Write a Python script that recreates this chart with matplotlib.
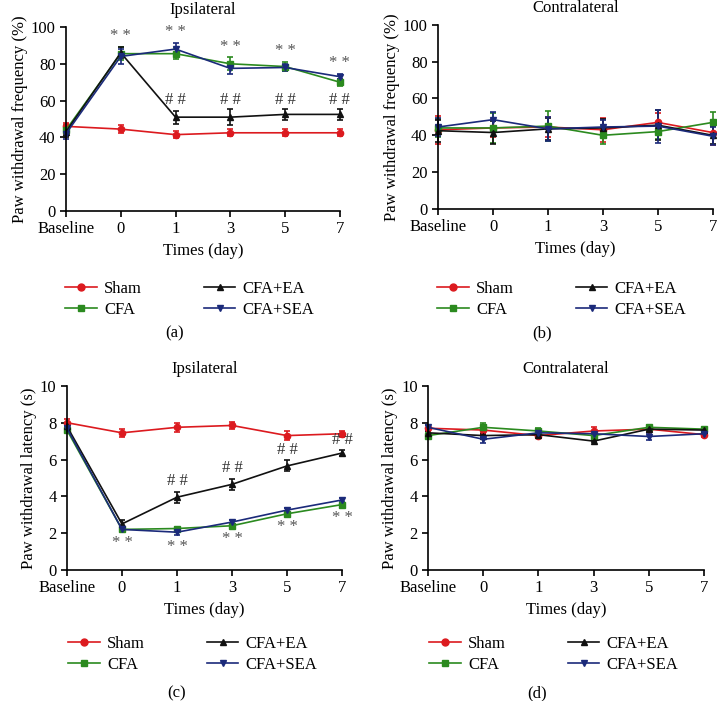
import matplotlib
matplotlib.use("Agg")
import matplotlib.pyplot as plt
from matplotlib.lines import Line2D
import numpy as np

plt.rcParams["font.family"] = ["Liberation Serif", "DejaVu Serif"]
plt.rcParams["font.size"] = 11.5

# x categories
days = ["Baseline", "0", "1", "3", "5", "7"]
groups = ["Sham", "CFA", "CFA+EA", "CFA+SEA"]
colors = ["#dc1a1f", "#2b8a1f", "#111111", "#1b2a7a"]
markers = ["o", "s", "^", "v"]

# (a) ipsilateral withdrawal frequency (%)
freq_ipsi = [
    [46, 44.5, 41.5, 42.5, 42.5, 42.5],
    [44, 85.5, 85.5, 80, 78.5, 70],
    [43, 86, 51, 51, 52.5, 52.5],
    [42, 84, 88, 77.5, 78, 73],
]
freq_ipsi_err = [
    [2, 2, 2, 2, 2, 2],
    [3, 3.5, 3, 3.5, 2.5, 2],
    [3, 3, 3.5, 4.5, 3, 3],
    [3, 4, 3.5, 3, 2, 1.5],
]
# (b) contralateral withdrawal frequency (%)
freq_contra = [
    [43, 44, 44.5, 43, 47, 41.5],
    [44, 44, 45, 40, 42, 47],
    [42.5, 41.5, 43.5, 44, 45.5, 40],
    [44.5, 48.5, 43.5, 44.5, 45, 39.5],
]
freq_contra_err = [
    [7.5, 5, 5.5, 6.5, 5, 7],
    [5, 8, 8, 5, 4, 5.5],
    [6, 6, 6, 5, 8, 5],
    [5, 4, 6.5, 4, 9, 5],
]
# (c) ipsilateral withdrawal latency (s)
lat_ipsi = [
    [8.0, 7.45, 7.75, 7.85, 7.3, 7.4],
    [7.6, 2.2, 2.25, 2.4, 3.05, 3.55],
    [7.8, 2.5, 3.95, 4.65, 5.65, 6.35],
    [7.7, 2.2, 2.05, 2.6, 3.25, 3.8],
]
lat_ipsi_err = [
    [0.2, 0.2, 0.25, 0.2, 0.25, 0.15],
    [0.1, 0.1, 0.1, 0.1, 0.1, 0.1],
    [0.2, 0.2, 0.3, 0.3, 0.3, 0.15],
    [0.1, 0.1, 0.15, 0.1, 0.1, 0.1],
]
# (d) contralateral withdrawal latency (s)
lat_contra = [
    [7.7, 7.6, 7.3, 7.55, 7.65, 7.35],
    [7.3, 7.75, 7.55, 7.3, 7.75, 7.65],
    [7.45, 7.3, 7.35, 7.0, 7.65, 7.6],
    [7.75, 7.1, 7.45, 7.4, 7.25, 7.4],
]
lat_contra_err = [
    [0.15, 0.2, 0.15, 0.2, 0.15, 0.15],
    [0.15, 0.25, 0.15, 0.15, 0.1, 0.1],
    [0.1, 0.1, 0.1, 0.05, 0.1, 0.1],
    [0.15, 0.2, 0.1, 0.1, 0.2, 0.1],
]


def draw_panel(ax, values, errors, ymax, ylabel, title):
    x = np.arange(len(days))
    for vals, errs, c, m in zip(values, errors, colors, markers):
        ax.errorbar(x, vals, yerr=errs, color=c, marker=m, markersize=4.5,
                    linewidth=1.2, elinewidth=1.2, capsize=2.5, capthick=1.2,
                    clip_on=False)
    ax.set_xlim(0, len(days) - 1)
    ax.set_ylim(0, ymax)
    ax.set_xticks(x)
    ax.set_xticklabels(days)
    ax.set_yticks(np.linspace(0, ymax, 6))
    ax.set_ylabel(ylabel, fontsize=12, labelpad=2)
    ax.set_xlabel("Times (day)", fontsize=12, labelpad=4)
    ax.set_title(title, fontsize=12, pad=9)
    ax.spines["top"].set_visible(False)
    ax.spines["right"].set_visible(False)
    for s in ["left", "bottom"]:
        ax.spines[s].set_linewidth(1.2)
    ax.tick_params(direction="out", length=4, width=1.2, labelsize=12)


fig = plt.figure(figsize=(7.17, 7.01), dpi=100)
ax_a = fig.add_axes([0.092, 0.699, 0.382, 0.2625])
ax_b = fig.add_axes([0.611, 0.702, 0.383, 0.2625])
ax_c = fig.add_axes([0.0934, 0.187, 0.3836, 0.2625])
ax_d = fig.add_axes([0.597, 0.187, 0.385, 0.2625])

draw_panel(ax_a, freq_ipsi, freq_ipsi_err, 100, "Paw withdrawal frequency (%)", "Ipsilateral")
draw_panel(ax_b, freq_contra, freq_contra_err, 100, "Paw withdrawal frequency (%)", "Contralateral")
draw_panel(ax_c, lat_ipsi, lat_ipsi_err, 10, "Paw withdrawal latency (s)", "Ipsilateral")
draw_panel(ax_d, lat_contra, lat_contra_err, 10, "Paw withdrawal latency (s)", "Contralateral")

star_col = "#555555"
# significance marks in (a)
for i in range(1, 6):
    top = max(freq_ipsi[1][i] + freq_ipsi_err[1][i], freq_ipsi[3][i] + freq_ipsi_err[3][i])
    ax_a.text(i, top + 1.5, "* *", ha="center", va="bottom", color=star_col, fontsize=12)
for i in range(2, 6):
    ax_a.text(i, 56, "# #", ha="center", va="bottom", color="#333333", fontsize=12)
# significance marks in (c)
for i in range(1, 6):
    low = min(lat_ipsi[1][i] - lat_ipsi_err[1][i], lat_ipsi[3][i] - lat_ipsi_err[3][i])
    ax_c.text(i, low - 0.2, "* *", ha="center", va="top", color=star_col, fontsize=12)
for i in range(2, 6):
    ax_c.text(i, lat_ipsi[2][i] + lat_ipsi_err[2][i] + 0.15, "# #", ha="center", va="bottom",
              color="#333333", fontsize=12)

# legends below each panel (line + marker only)
handles = [Line2D([], [], color=c, marker=m, markersize=5, linewidth=1.2)
           for c, m in zip(colors, markers)]
legend_spots = [(65, 281), (437, 281), (68, 636), (429, 636)]
W, H = 717, 701
for lx, ly in legend_spots:
    fig.legend(handles, groups, loc="upper left", bbox_to_anchor=(lx / W, 1 - ly / H), ncol=2,
               frameon=False, borderpad=0, borderaxespad=0, handlelength=1.9,
               handletextpad=0.45, columnspacing=3.7, labelspacing=0.3, fontsize=12)

for label, cx, cy in [("(a)", 175, 333), ("(b)", 542, 333), ("(c)", 177, 693), ("(d)", 537, 693)]:
    fig.text(cx / W, 1 - cy / H, label, ha="center", va="center", fontsize=12)

fig.savefig("out.png", dpi=100)
